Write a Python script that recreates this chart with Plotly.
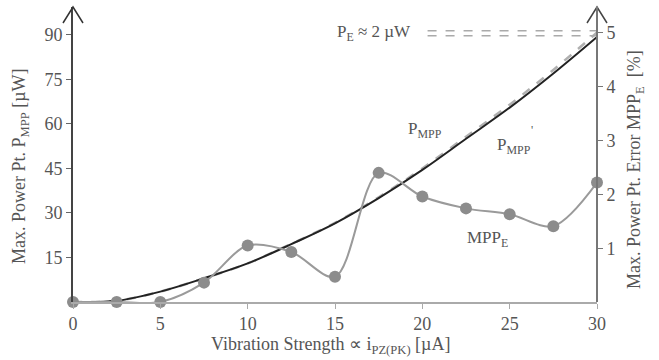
import plotly.graph_objects as go

# ---- data ----
x_vals = [0, 2.5, 5, 7.5, 10, 12.5, 15, 17.5, 20, 22.5, 25, 27.5, 30]
p_mpp = [0, 0.4, 3.5, 8, 13, 19.5, 26.5, 35, 44.5, 55, 65.5, 77, 89.3]
p_mpp_prime = [0, 0.4, 3.5, 8, 13, 19.6, 26.7, 35.3, 45, 55.7, 66.5, 78.2, 90.8]
mpp_e = [0, 0, 0, 0.36, 1.05, 0.93, 0.47, 2.4, 1.96, 1.74, 1.63, 1.41, 2.22]
x_ticks = [0, 5, 10, 15, 20, 25, 30]
left_ticks = [15, 30, 45, 60, 75, 90]
right_ticks = [1, 2, 3, 4, 5]
pe_band = [89.7, 91.4]   # P_E ≈ 2 µW band (left axis units)
pe_band_x = [20.3, 30]

FONT = "'Liberation Serif', 'Times New Roman', serif"
TXT = "#555555"
FS = 18

W, H = 659, 360
L, R, T, B = 73, 62, 7, 58
PW, PH = W - L - R, H - T - B
Y1MAX = 99.4
Y2MAX = 5.483

def px(xp):
    return (xp - L) / PW

def py(yp):
    return (H - B - yp) / PH

fig = go.Figure()

fig.add_trace(go.Scatter(
    x=x_vals, y=mpp_e, yaxis="y2", mode="lines+markers",
    line=dict(color="#9a9a9a", width=2, shape="spline", smoothing=0.9),
    marker=dict(color="#8c8c8c", size=12),
    cliponaxis=False, showlegend=False))

fig.add_trace(go.Scatter(
    x=x_vals, y=p_mpp_prime, mode="lines",
    line=dict(color="#b0b0b0", width=2.5, dash="dash", shape="spline"),
    showlegend=False))

fig.add_trace(go.Scatter(
    x=x_vals, y=p_mpp, mode="lines",
    line=dict(color="#222222", width=2, shape="spline"),
    cliponaxis=False, showlegend=False))

shapes = []
for yv in pe_band:
    shapes.append(dict(type="line", xref="x", yref="y", x0=pe_band_x[0], x1=pe_band_x[1],
                       y0=yv, y1=yv, line=dict(color="#aaaaaa", width=1.5, dash="dash")))
# axis arrow heads (paper coordinates so they are not clipped)
for xa_px, col in [(73, "#333333"), (597, "#444444")]:
    shapes.append(dict(type="path", xref="paper", yref="paper",
                       path=f"M {px(xa_px-10)} {py(23)} L {px(xa_px)} {py(7)} L {px(xa_px+10)} {py(23)}",
                       line=dict(color=col, width=1.5)))
# right axis line
shapes.append(dict(type="line", xref="paper", yref="paper", x0=1, x1=1, y0=0, y1=1,
                   line=dict(color="#777777", width=2)))

def ann(xp, yp, text, size=FS, angle=0):
    return dict(x=px(xp), y=py(yp), xref="paper", yref="paper", text=text,
                xanchor="center", yanchor="middle",
                textangle=angle, showarrow=False,
                font=dict(family=FONT, size=size, color=TXT))

annotations = [
    ann(425, 130, "P<sub>MPP</sub>", size=17),
    ann(514, 146, "P<sub>MPP</sub>", size=17),
    ann(532, 130, "'", size=12),
    ann(487, 239, "MPP<sub>E</sub>", size=17),
    ann(374, 33, "P<sub>E</sub> ≈ 2 µW", size=17),
    ann(21, 166, "Max. Power Pt. P<sub>MPP</sub> [µW]", angle=-90),
    ann(636, 170, "Max. Power Pt. Error MPP<sub>E</sub>  [%]", angle=-90),
    ann(330, 345, "Vibration Strength ∝ i<sub>PZ(PK)</sub> [µA]"),
]

fig.update_layout(
    width=W, height=H,
    margin=dict(l=L, r=R, t=T, b=B, pad=0),
    paper_bgcolor="white", plot_bgcolor="white",
    font=dict(family=FONT, size=FS, color=TXT),
    shapes=shapes, annotations=annotations,
    xaxis=dict(range=[0, 30], tickvals=x_ticks, showgrid=False, zeroline=False,
               showline=True, linecolor="#aaaaaa", linewidth=1.5,
               ticks="outside", ticklen=5, tickcolor="#aaaaaa",
               tickfont=dict(family=FONT, size=FS, color=TXT)),
    yaxis=dict(range=[0, Y1MAX], tickvals=left_ticks, showgrid=False, zeroline=False,
               showline=True, linecolor="#444444", linewidth=2,
               ticks="outside", ticklen=5, tickcolor="#666666",
               tickfont=dict(family=FONT, size=FS, color=TXT)),
    yaxis2=dict(range=[0, Y2MAX], tickvals=right_ticks, overlaying="y", side="right",
                showgrid=False, zeroline=False, showline=False,
                ticks="outside", ticklen=5, tickcolor="#777777",
                tickfont=dict(family=FONT, size=FS, color=TXT)),
)

fig.write_html("out.html", config={"displayModeBar": False},
               post_script="document.body.style.margin='0';")
